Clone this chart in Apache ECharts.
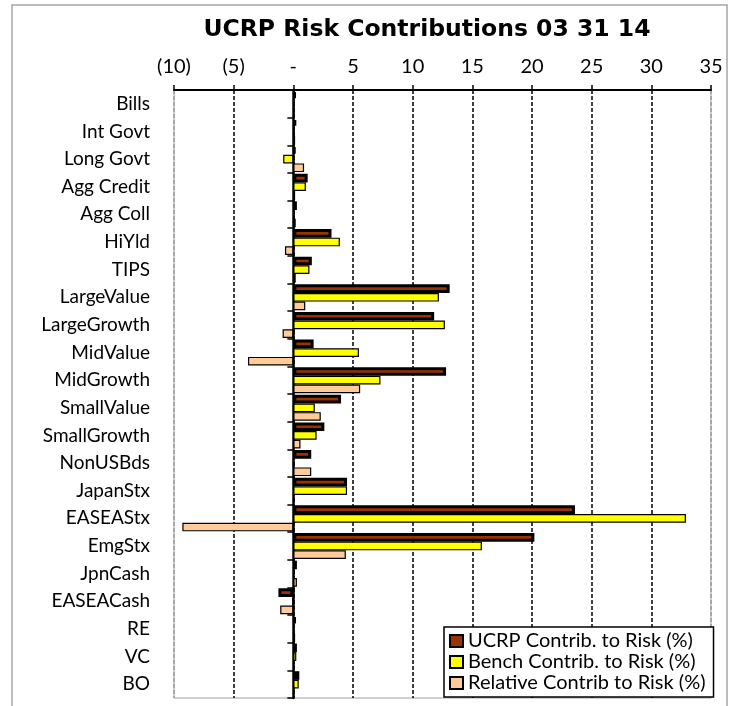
<!DOCTYPE html>
<html lang="en">
<head>
    <meta charset="UTF-8">
    <title>UCRP Risk Contributions 03 31 14</title>
    <script src="https://cdn.jsdelivr.net/npm/echarts@6/dist/echarts.min.js"></script>
    <style>
        html, body { margin: 0; padding: 0; background: #fff; }
        #graph { width: 733px; height: 706px; }
    </style>
</head>
<body>
<div id="graph"></div>
<script>
    var categories = ['Bills', 'Int Govt', 'Long Govt', 'Agg Credit', 'Agg Coll', 'HiYld', 'TIPS',
        'LargeValue', 'LargeGrowth', 'MidValue', 'MidGrowth', 'SmallValue', 'SmallGrowth',
        'NonUSBds', 'JapanStx', 'EASEAStx', 'EmgStx', 'JpnCash', 'EASEACash', 'RE', 'VC', 'BO'];
    var ucrp = [0.2, 0.25, 0.15, 1.2, 0.3, 3.2, 1.55, 13.1, 11.8, 1.7, 12.8, 4.0, 2.6,
        1.5, 4.5, 23.6, 20.2, 0.3, -1.25, 0.2, 0.3, 0.5];
    var bench = [0.1, 0.1, -0.85, 1.05, 0.1, 3.9, 1.35, 12.2, 12.7, 5.5, 7.3, 1.8, 1.95,
        0.0, 4.5, 32.9, 15.8, 0.05, -0.1, 0.05, 0.25, 0.45];
    var relative = [0.1, 0.15, 0.9, 0.15, 0.2, -0.7, 0.2, 1.0, -0.9, -3.8, 5.6, 2.3, 0.6,
        1.5, 0.05, -9.3, 4.4, 0.3, -1.1, 0.15, 0.05, 0.05];
    var seriesNames = ['UCRP Contrib. to Risk (%)', 'Bench Contrib. to Risk (%)', 'Relative Contrib to Risk (%)'];

    var font = 'Lato, "Noto Sans", sans-serif';
    var myChart = echarts.init(document.getElementById('graph'));

    function tickLabel(v) {
        if (v < 0) return '(' + (-v) + ')';
        if (v === 0) return '-';
        return String(v);
    }

    function barSeries(name, data, color, border) {
        return {
            name: name,
            type: 'bar',
            data: data,
            barGap: '0%',
            barCategoryGap: '6%',
            itemStyle: { color: color, borderColor: '#000', borderWidth: border }
        };
    }

    var option = {
        backgroundColor: '#fff',
        animation: false,
        title: {
            text: 'UCRP Risk Contributions 03 31 14',
            left: 427,
            top: 18,
            padding: 0,
            textAlign: 'center',
            textStyle: { fontFamily: '"DejaVu Sans", sans-serif', fontSize: 23.5, fontWeight: 'bold', color: '#000' }
        },
        legend: {
            orient: 'vertical',
            left: 444,
            top: 627,
            padding: [4, 8, 4, 5],
            itemGap: 1,
            itemWidth: 13,
            itemHeight: 12,
            backgroundColor: '#fff',
            borderColor: '#000',
            borderWidth: 1.5,
            borderRadius: 0,
            icon: 'rect',
            textStyle: { fontFamily: font, fontSize: 20, color: '#000' },
            data: seriesNames
        },
        graphic: [{
            type: 'rect',
            shape: { x: 12, y: 5, width: 715, height: 720 },
            style: { fill: 'none', stroke: '#a6a6a6', lineWidth: 1.5 },
            silent: true,
            z: -1
        }],
        grid: {
            left: 174,
            right: 22,
            top: 90,
            bottom: 8,
            containLabel: false,
            outerBoundsMode: 'none',
            show: true,
            borderColor: '#a0a0a0',
            borderWidth: 1
        },
        xAxis: {
            type: 'value',
            position: 'top',
            min: -10,
            max: 35,
            interval: 5,
            axisLine: { show: true, onZero: false, lineStyle: { color: '#000', width: 2 } },
            axisTick: { show: true, length: 5, lineStyle: { color: '#000', width: 1.5 } },
            axisLabel: {
                margin: 13,
                fontFamily: font,
                fontSize: 20,
                color: '#000',
                formatter: tickLabel
            },
            splitLine: {
                show: true,
                lineStyle: {
                    color: ['#999', '#000', '#000', '#000', '#000', '#000', '#000', '#000', '#000', '#999'],
                    type: [4, 2],
                    width: 1.5
                }
            }
        },
        yAxis: {
            type: 'category',
            inverse: true,
            data: categories,
            axisLine: { show: true, onZero: true, lineStyle: { color: '#000', width: 2.5 } },
            axisTick: { show: true, length: 6, lineStyle: { color: '#000', width: 1.5 } },
            axisLabel: {
                margin: 24,
                fontFamily: font,
                fontSize: 19,
                color: '#000',
                interval: 0
            },
            splitLine: { show: false }
        },
        series: [
            barSeries(seriesNames[0], ucrp, '#993300', 3),
            barSeries(seriesNames[1], bench, '#ffff00', 1.2),
            barSeries(seriesNames[2], relative, '#ffcc99', 1.2)
        ]
    };

    myChart.setOption(option);
</script>
</body>
</html>
